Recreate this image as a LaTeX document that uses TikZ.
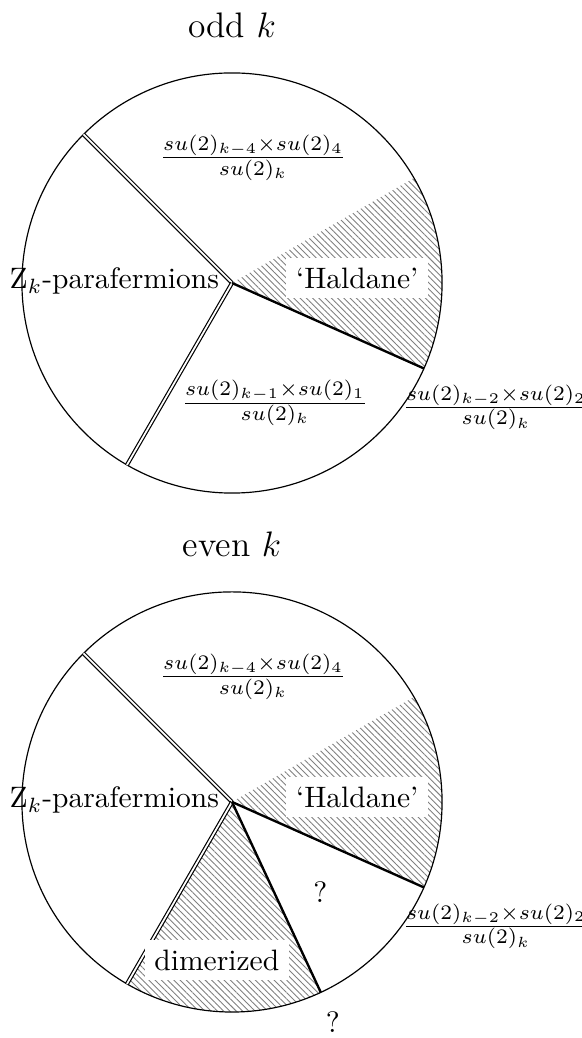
\documentclass[tikz,border=0pt]{standalone}
\usetikzlibrary{patterns.meta,calc}
\begin{document}
\begin{tikzpicture}[
    hatch/.style={pattern={Lines[angle=135,distance=1.5pt,line width=0.3pt]},pattern color=gray},
    wall/.style={double,thin},
    lbl/.style={fill=white}
  ]
  \useasboundingbox (-2.761,3.368) rectangle (4.165,-8.985);

  % odd k
  \coordinate (O) at (0,0);
  \node[font=\large] (odd) at (0,3.07) {odd $k$};
  \fill[hatch] (O) -- (-24:2.5) arc (-24:30:2.5) -- cycle;
  \draw (O) circle (2.5);
  \coordinate (A) at (135:2.5);
  \coordinate (B) at (240:2.5);
  \coordinate (C) at (-24:2.5);
  \draw[wall] (O) -- (A);
  \draw[wall] (O) -- (B);
  \draw[thick] (O) -- (C);
  \node (Z) at (-1.40,0.02) {Z$_k$-parafermions};
  \node[lbl] (hal) at (1.49,0.06) {`Haldane'};
  \node (f4) at (0.25,1.49) {$\frac{su(2)_{k-4}\times su(2)_4}{su(2)_k}$};
  \node (f1) at (0.51,-1.43) {$\frac{su(2)_{k-1}\times su(2)_1}{su(2)_k}$};
  \node (f2) at (3.14,-1.48) {$\frac{su(2)_{k-2}\times su(2)_2}{su(2)_k}$};

  % even k
  \coordinate (Ob) at (0,-6.176);
  \node[font=\large] (even) at (0,-3.116) {even $k$};
  \fill[hatch] (Ob) -- ++(-24:2.5) arc (-24:30:2.5) -- cycle;
  \fill[hatch] (Ob) -- ++(240:2.5) arc (240:295:2.5) -- cycle;
  \draw (Ob) circle (2.5);
  \coordinate (Ab) at ($(Ob)+(135:2.5)$);
  \coordinate (Bb) at ($(Ob)+(240:2.5)$);
  \coordinate (Cb) at ($(Ob)+(-24:2.5)$);
  \coordinate (Db) at ($(Ob)+(-65:2.5)$);
  \draw[wall] (Ob) -- (Ab);
  \draw[wall] (Ob) -- (Bb);
  \draw[thick] (Ob) -- (Cb);
  \draw[thick] (Ob) -- (Db);
  \node (Zb) at (-1.40,-6.156) {Z$_k$-parafermions};
  \node[lbl] (halb) at (1.49,-6.116) {`Haldane'};
  \node[lbl] (dim) at (-0.18,-8.056) {dimerized};
  \node (q1) at (1.05,-7.246) {?};
  \node (q2) at (1.20,-8.796) {?};
  \node (f4b) at (0.25,-4.686) {$\frac{su(2)_{k-4}\times su(2)_4}{su(2)_k}$};
  \node (f2b) at (3.14,-7.656) {$\frac{su(2)_{k-2}\times su(2)_2}{su(2)_k}$};
\end{tikzpicture}
\end{document}
